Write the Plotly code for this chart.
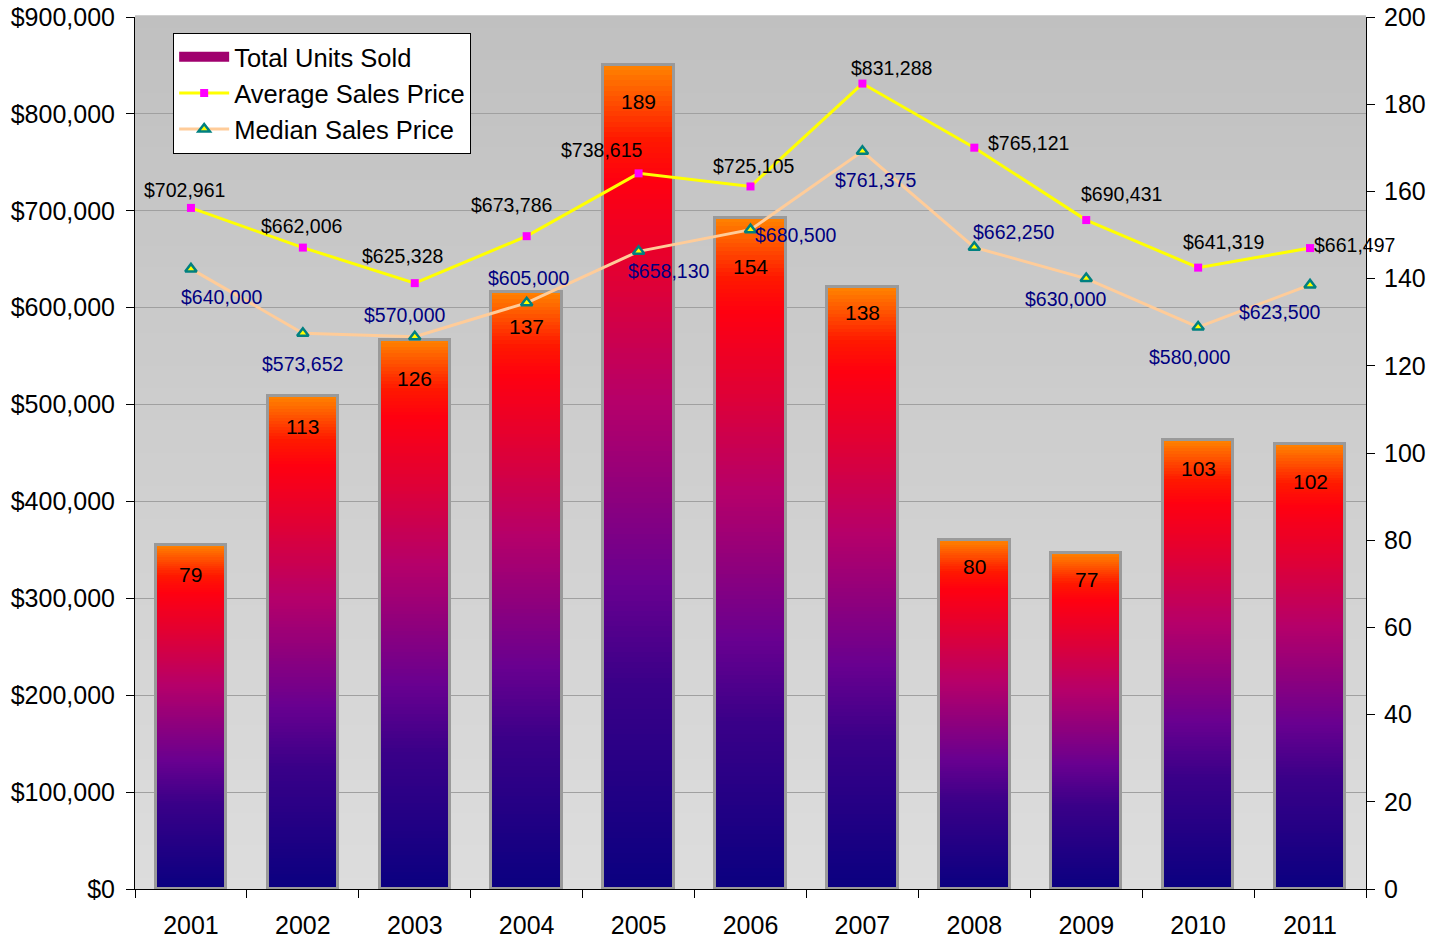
import plotly.graph_objects as go
from plotly.colors import sample_colorscale

years = ['2001', '2002', '2003', '2004', '2005', '2006', '2007', '2008', '2009', '2010', '2011']
units_sold = [79, 113, 126, 137, 189, 154, 138, 80, 77, 103, 102]
avg_price = [702961, 662006, 625328, 673786, 738615, 725105, 831288, 765121, 690431, 641319, 661497]
median_price = [640000, 573652, 570000, 605000, 658130, 680500, 761375, 662250, 630000, 580000, 623500]

# label offsets in pixels (dx right, dy down) -- styling only
avg_off = [(-6, -18), (-1, -22), (-12, -27), (-15, -31), (-37, -23), (3, -20),
           (29, -16), (54, -5), (35, -26), (25, -26), (44, -3)]
med_off = [(31, 28), (0, 31), (-10, -22), (2, -25), (30, 20), (45, 5),
           (13, 29), (39, -15), (-21, 20), (-9, 30), (-31, 27)]
bar_lbl_off = [30, 30, 39, 35, 37, 49, 25, 26, 26, 29, 37]

bar_scale = [[0.0, '#0A0080'], [0.25, '#3A0088'], [0.37, '#680090'], [0.59, '#B5006A'],
             [0.74, '#E00035'], [0.86, '#FF0010'], [0.91, '#FF1800'], [1.0, '#FF8400']]

N = 160
seg_colors = sample_colorscale(bar_scale, [(k + 0.5) / N for k in range(N)])

fig = go.Figure()

for k in range(N):
    fig.add_trace(go.Bar(
        x=years, y=[v / N * 1.02 for v in units_sold], base=[v * k / N for v in units_sold],
        marker=dict(color=seg_colors[k], line=dict(width=0)),
        width=0.63, showlegend=False, hoverinfo='skip', yaxis='y'))

# outline
fig.add_trace(go.Bar(
    x=years, y=units_sold, base=[0] * len(units_sold),
    marker=dict(color='rgba(0,0,0,0)', line=dict(color='#9A9A9A', width=3)),
    width=0.63, showlegend=False, name='Total Units Sold', yaxis='y'))

# legend entry for bars (no data drawn)
fig.add_trace(go.Scatter(
    x=[None], y=[None], name='Total Units Sold', mode='lines',
    line=dict(color='#A0006E', width=16),
    legendgroup='a', legendrank=1, yaxis='y'))

fig.add_trace(go.Scatter(
    x=years, y=avg_price, name='Average Sales Price', mode='lines+markers',
    line=dict(color='#FFFF00', width=3),
    marker=dict(symbol='square', size=8, color='#FF00FF', line=dict(width=0)),
    legendgroup='b', legendrank=2, yaxis='y2'))

fig.add_trace(go.Scatter(
    x=years, y=median_price, name='Median Sales Price', mode='lines+markers',
    line=dict(color='#FFCC99', width=3),
    marker=dict(symbol='triangle-up', size=10, color='#FFFF00', line=dict(color='#008080', width=2.5)),
    legendgroup='c', legendrank=3, yaxis='y2'))

annotations = []
lab_font = 'Liberation Sans Narrow, Arial Narrow, Liberation Sans, Arial, sans-serif'
for i, yr in enumerate(years):
    annotations.append(dict(
        x=i, y=avg_price[i], xref='x', yref='y2', text='${:,}'.format(avg_price[i]),
        showarrow=False, xshift=avg_off[i][0], yshift=-avg_off[i][1],
        font=dict(family=lab_font, size=19.5, color='#000000')))
    annotations.append(dict(
        x=i, y=median_price[i], xref='x', yref='y2', text='${:,}'.format(median_price[i]),
        showarrow=False, xshift=med_off[i][0], yshift=-med_off[i][1],
        font=dict(family=lab_font, size=19.5, color='#000080')))
    annotations.append(dict(
        x=i, y=units_sold[i], xref='x', yref='y', text=str(units_sold[i]),
        showarrow=False, yshift=-bar_lbl_off[i],
        font=dict(family=lab_font, size=21, color='#000000')))

shapes = []
M = 80
bg_cols = sample_colorscale([[0, '#DDDDDD'], [1, '#C0C0C0']], [(i + 0.5) / M for i in range(M)])
for i in range(M):
    shapes.append(dict(type='rect', xref='x domain', yref='y domain',
                       x0=0, x1=1, y0=i / M, y1=(i + 1) / M + 0.002,
                       fillcolor=bg_cols[i], line=dict(width=0), layer='below'))

axis_font = dict(family='Liberation Sans, Arial, sans-serif', size=25, color='#000000')

fig.update_layout(
    width=1430, height=939,
    margin=dict(l=135, r=64, t=17, b=50, autoexpand=False),
    paper_bgcolor='white', plot_bgcolor='#CFCFCF',
    barmode='overlay', bargap=0,
    font=axis_font,
    xaxis=dict(type='category', range=[-0.5, 10.5], showline=True, linecolor='#000000', linewidth=1,
               ticks='outside', tickson='boundaries', ticklen=8, tickcolor='#000000',
               tickfont=axis_font, ticklabelstandoff=14, showgrid=False, zeroline=False,
               automargin=False),
    yaxis=dict(side='right', range=[0, 200], dtick=20, showline=True, linecolor='#000000', linewidth=1,
               ticks='outside', ticklen=8, tickcolor='#000000', showgrid=False, zeroline=False,
               tickfont=axis_font, ticklabelstandoff=4, automargin=False),
    yaxis2=dict(side='left', overlaying='y', range=[0, 900000], dtick=100000, tickprefix='$',
                tickformat=',d', showline=True, linecolor='#000000', linewidth=1,
                ticks='outside', ticklen=8, tickcolor='#000000', showgrid=True, gridcolor='#A0A0A0',
                gridwidth=1, zeroline=False, tickfont=axis_font, ticklabelstandoff=6,
                automargin=False),
    legend=dict(x=0.031, y=0.982, xanchor='left', yanchor='top', bgcolor='white',
                bordercolor='#000000', borderwidth=1, traceorder='grouped', tracegroupgap=0,
                itemwidth=50, font=dict(family='Liberation Sans, Arial, sans-serif', size=25.5)),
    annotations=annotations, shapes=shapes,
    showlegend=True,
)

fig.write_html('out.html', config={'displayModeBar': False},
               post_script="document.body.style.margin='0';")
